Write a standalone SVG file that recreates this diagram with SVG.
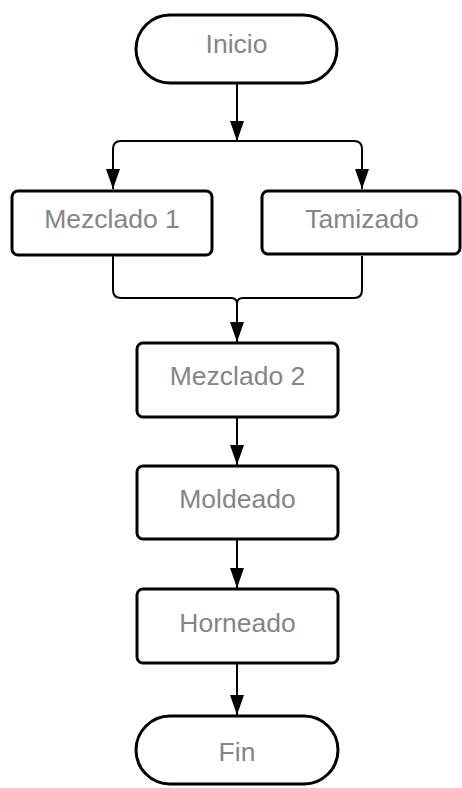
<svg xmlns="http://www.w3.org/2000/svg" width="462" height="788" viewBox="0 0 462 788">
<style>
.box{fill:#fff;stroke:#000;stroke-width:3}
.lbl{font-family:"Liberation Sans",Arial,sans-serif;font-size:26.5px;fill:#858585;text-anchor:middle}
.conn{fill:none;stroke:#000;stroke-width:2}
</style>
<defs>
<marker id="ah" viewBox="0 0 20 14" refX="20" refY="7" markerWidth="20" markerHeight="14" markerUnits="userSpaceOnUse" orient="auto">
<polygon points="0,0 20,7 0,14" fill="#000"/>
</marker>
</defs>
<rect width="462" height="788" fill="#fff"/>
<g id="connectors">
<path class="conn" d="M237 84 V141" marker-end="url(#ah)"/>
<path class="conn" d="M237 141 H121 Q113 141 113 149 V189" marker-end="url(#ah)"/>
<path class="conn" d="M237 141 H354 Q362 141 362 149 V189" marker-end="url(#ah)"/>
<path class="conn" d="M113 256 V290 Q113 298 121 298 H231 Q237 298 237 304"/>
<path class="conn" d="M362 256 V290 Q362 298 354 298 H243 Q237 298 237 304 V342" marker-end="url(#ah)"/>
<path class="conn" d="M237 418 V465" marker-end="url(#ah)"/>
<path class="conn" d="M237 540 V588" marker-end="url(#ah)"/>
<path class="conn" d="M237 664 V715" marker-end="url(#ah)"/>
</g>
<g id="inicio">
<rect class="box" x="136" y="15" width="201" height="68" rx="34"/>
<text class="lbl" x="236.5" y="53">Inicio</text>
</g>
<g id="mezclado1">
<rect class="box" x="12" y="191" width="200" height="64" rx="6"/>
<text class="lbl" x="112" y="228">Mezclado 1</text>
</g>
<g id="tamizado">
<rect class="box" x="262" y="191" width="198" height="63" rx="6"/>
<text class="lbl" x="362" y="228">Tamizado</text>
</g>
<g id="mezclado2">
<rect class="box" x="137" y="343" width="201" height="74" rx="6"/>
<text class="lbl" x="237.5" y="385">Mezclado 2</text>
</g>
<g id="moldeado">
<rect class="box" x="137" y="466" width="201" height="73" rx="6"/>
<text class="lbl" x="237.5" y="508">Moldeado</text>
</g>
<g id="horneado">
<rect class="box" x="137" y="589" width="201" height="74" rx="6"/>
<text class="lbl" x="237.5" y="632">Horneado</text>
</g>
<g id="fin">
<rect class="box" x="136" y="716" width="202" height="68" rx="34"/>
<text class="lbl" x="237" y="761">Fin</text>
</g>
</svg>
